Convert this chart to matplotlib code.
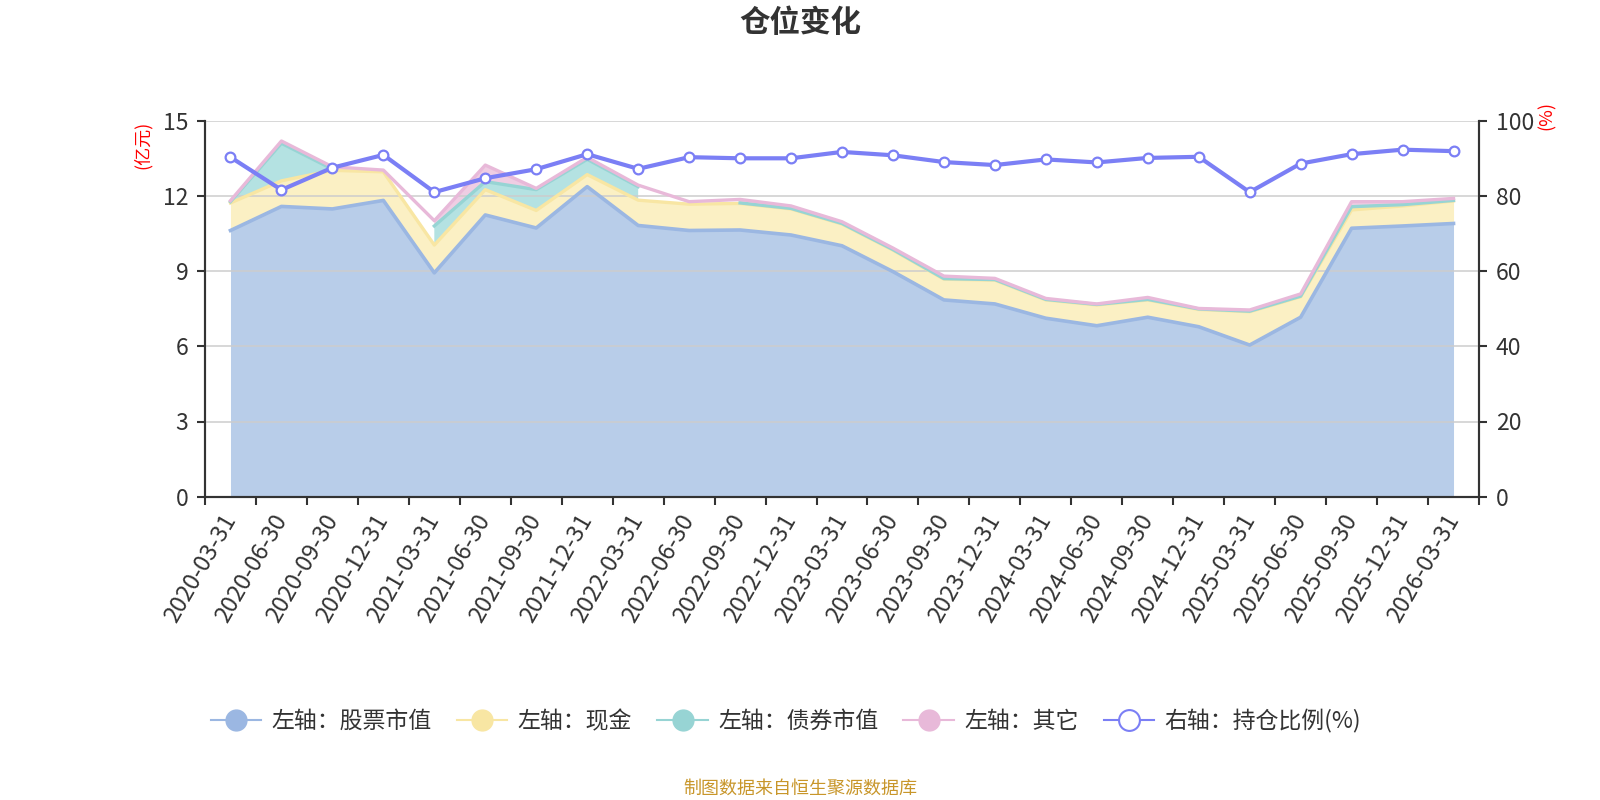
import numpy as np
import matplotlib
matplotlib.use("Agg")
import matplotlib.pyplot as plt
from matplotlib.lines import Line2D

plt.rcParams['font.family'] = ['Noto Sans CJK SC', 'DejaVu Sans']

dates = ["2020-03-31", "2020-06-30", "2020-09-30", "2020-12-31", "2021-03-31", "2021-06-30",
         "2021-09-30", "2021-12-31", "2022-03-31", "2022-06-30", "2022-09-30", "2022-12-31",
         "2023-03-31", "2023-06-30", "2023-09-30", "2023-12-31", "2024-03-31", "2024-06-30",
         "2024-09-30", "2024-12-31", "2025-03-31", "2025-06-30", "2025-09-30", "2025-12-31",
         "2026-03-31"]
stock = [10.62, 11.58, 11.48, 11.82, 8.93, 11.24, 10.72, 12.37, 10.82, 10.62, 10.64, 10.44,
         10.01, 8.98, 7.85, 7.69, 7.12, 6.82, 7.16, 6.78, 6.05, 7.16, 10.71, 10.80, 10.90]
cash = [1.10, 1.02, 1.54, 1.14, 1.11, 1.01, 0.70, 0.48, 1.01, 1.05, 1.06, 1.04,
        0.87, 0.86, 0.83, 0.95, 0.73, 0.83, 0.69, 0.69, 1.33, 0.82, 0.73, 0.80, 0.90]
bond = [0.05, 1.50, 0.05, np.nan, 0.76, 0.32, 0.83, 0.61, 0.54, np.nan, 0.02, 0.02,
        0.02, 0.02, 0.02, 0.02, 0.02, 0.02, 0.02, 0.02, 0.02, 0.02, 0.13, 0.05, 0.02]
other = [0.04, 0.09, 0.09, 0.07, 0.21, 0.66, 0.05, 0.08, 0.06, 0.10, 0.14, 0.10,
         0.07, 0.06, 0.10, 0.05, 0.04, 0.02, 0.08, 0.02, 0.05, 0.09, 0.20, 0.12, 0.08]
ratio = [90.3, 81.6, 87.5, 90.9, 81.0, 84.7, 87.1, 91.1, 87.2, 90.3, 90.0, 90.0,
         91.7, 90.8, 89.0, 88.2, 89.7, 88.9, 90.1, 90.4, 81.0, 88.6, 91.1, 92.3, 91.9]

names = ["左轴：股票市值", "左轴：现金", "左轴：债券市值", "左轴：其它", "右轴：持仓比例(%)"]
line_cols = ['#9bb7e2', '#f8e6a3', '#97d4d4', '#e8b9d9', '#7b7ff5']
fill_cols = ['#b8cde9', '#fbf0c4', '#b4e2e2', '#efcde3']

x = np.arange(len(dates))
s = np.array(stock)
c = np.array(cash)
b = np.array(bond)
o = np.array(other)
top_stock = s
top_cash = s + c
top_bond = top_cash + b              # NaN where bond missing
top_other = top_cash + np.nan_to_num(b) + o
base_other = top_bond

fig = plt.figure(figsize=(16, 8), dpi=100)
ax = fig.add_axes([205/1600, 1-496.7/800, (1479-205)/1600, (496.7-120.7)/800])

ax.fill_between(x, 0, top_stock, color=fill_cols[0], lw=0, zorder=2)
ax.fill_between(x, top_stock, top_cash, color=fill_cols[1], lw=0, zorder=2)
ax.fill_between(x, top_cash, top_bond, color=fill_cols[2], lw=0, zorder=2)
ax.fill_between(x, base_other, top_other, color=fill_cols[3], lw=0, zorder=2)
ax.plot(x, top_stock, color=line_cols[0], lw=2.6, zorder=3, solid_joinstyle='round')
ax.plot(x, top_cash, color=line_cols[1], lw=2.4, zorder=3, solid_joinstyle='round')
ax.plot(x, top_bond, color=line_cols[2], lw=2.4, zorder=3, solid_joinstyle='round')
ax.plot(x, top_other, color=line_cols[3], lw=2.4, zorder=4, solid_joinstyle='round')

ax.set_xlim(-0.5, len(dates) - 0.5)
ax.set_ylim(0, 15)
ax.set_yticks([0, 3, 6, 9, 12, 15])
ax.yaxis.grid(True, color='#cccccc', lw=1.2, zorder=1)
ax.set_axisbelow(False)
for gl in ax.get_ygridlines():
    gl.set_zorder(2.5)
    gl.set_alpha(0.9)

ax.set_xticks(np.arange(-0.5, len(dates), 1.0))
ax.set_xticklabels([])
ax.set_xticks(x, minor=True)
ax.set_xticklabels(dates, minor=True, rotation=60, ha='right', va='center',
                   rotation_mode='anchor', fontsize=17, color='#333333')
ax.tick_params(axis='x', which='minor', length=0, pad=14)
ax.tick_params(axis='x', which='major', length=6, width=1.5, color='#333333', direction='out')
ax.tick_params(axis='y', length=6, width=1.5, color='#333333', labelsize=16.5,
               labelcolor='#333333', pad=6)

ax.spines['top'].set_visible(False)
for sp in ['left', 'bottom', 'right']:
    ax.spines[sp].set_color('#333333')
    ax.spines[sp].set_linewidth(1.5)

ax2 = ax.twinx()
ax2.set_ylim(0, 100)
ax2.set_yticks([0, 20, 40, 60, 80, 100])
ax2.plot(x, ratio, color=line_cols[4], lw=3, marker='o', markersize=7,
         markerfacecolor='white', markeredgecolor=line_cols[4], markeredgewidth=1.6, zorder=5)
ax2.tick_params(axis='y', length=6, width=1.5, color='#333333', labelsize=16.5,
                labelcolor='#333333', pad=6)
ax2.spines['top'].set_visible(False)
for sp in ['left', 'bottom', 'right']:
    ax2.spines[sp].set_color('#333333')
    ax2.spines[sp].set_linewidth(1.5)

fig.text(800/1600, 1-23/800, "仓位变化", ha='center', va='center', fontsize=22,
         fontweight='bold', color='#333333')
fig.text(143/1600, 1-145/800, "(亿元)", rotation=90, ha='center', va='center',
         fontsize=13, color='red')
fig.text(1547/1600, 1-115/800, "(%)", rotation=90, ha='center', va='center',
         fontsize=13, color='red')

handles = []
for i in range(4):
    handles.append(Line2D([0], [0], color=line_cols[i], lw=1.5, marker='o', markersize=15,
                          markerfacecolor=line_cols[i], markeredgecolor=line_cols[i]))
handles.append(Line2D([0], [0], color=line_cols[4], lw=1.5, marker='o', markersize=15,
                      markerfacecolor='white', markeredgecolor=line_cols[4], markeredgewidth=1.5))
leg = fig.legend(handles, names, loc='center', bbox_to_anchor=(786/1600, 1-721/800), ncol=5,
                 frameon=False, fontsize=16.5, handlelength=2.2, handletextpad=0.45,
                 columnspacing=1.1)
for t in leg.get_texts():
    t.set_color('#333333')

fig.text(800/1600, 1-789/800, "制图数据来自恒生聚源数据库", ha='center', va='center',
         fontsize=13, color='#c8962a')

fig.savefig("out.png", dpi=100)
